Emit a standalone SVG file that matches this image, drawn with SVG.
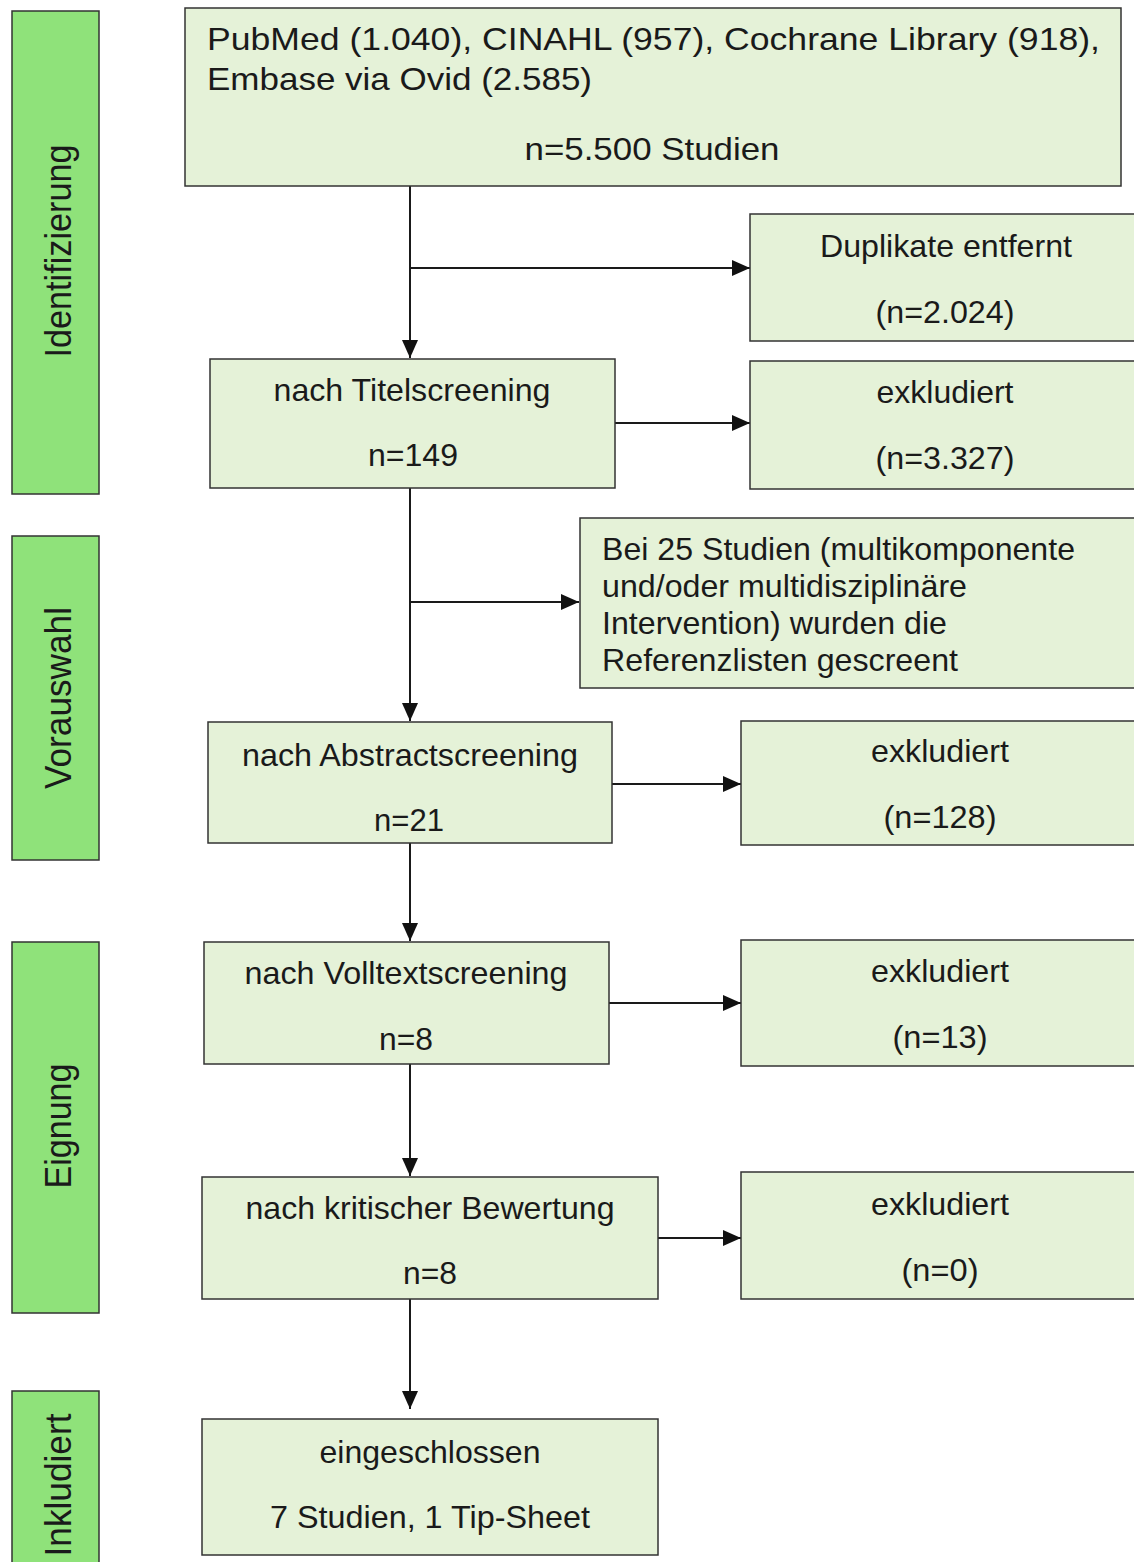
<svg xmlns="http://www.w3.org/2000/svg" width="1134" height="1562" viewBox="0 0 1134 1562">
<style>
.box{fill:#e5f2d8;stroke:#333;stroke-width:1.5}
.side{fill:#8fe27a;stroke:#333;stroke-width:1.5}
text{font-family:"Liberation Sans",Arial,sans-serif;font-size:32px;fill:#1a1a1a}
.s{font-size:36px}
.c{text-anchor:middle}
.line{stroke:#1a1a1a;stroke-width:2;fill:none;marker-end:url(#arr)}
</style>
<defs>
<marker id="arr" viewBox="0 0 18 16" refX="18" refY="8" markerWidth="18" markerHeight="16" markerUnits="userSpaceOnUse" orient="auto">
<path d="M0,0 L18,8 L0,16 Z" fill="#111"/>
</marker>
</defs>
<rect width="1134" height="1562" fill="#fff"/>
<g id="side-identifizierung"><rect class="side" x="12" y="11" width="87" height="483"/><text class="c s" transform="translate(71,251) rotate(-90)" textLength="213" lengthAdjust="spacingAndGlyphs">Identifizierung</text></g>
<g id="side-vorauswahl"><rect class="side" x="12" y="536" width="87" height="324"/><text class="c s" transform="translate(71,698) rotate(-90)" textLength="182" lengthAdjust="spacingAndGlyphs">Vorauswahl</text></g>
<g id="side-eignung"><rect class="side" x="12" y="942" width="87" height="371"/><text class="c s" transform="translate(71,1126) rotate(-90)" textLength="125" lengthAdjust="spacingAndGlyphs">Eignung</text></g>
<g id="side-inkludiert"><rect class="side" x="12" y="1391" width="87" height="180"/><text class="c s" transform="translate(71,1485) rotate(-90)" textLength="143" lengthAdjust="spacingAndGlyphs">Inkludiert</text></g>

<g id="connectors">
<line class="line" x1="410" y1="186" x2="410" y2="358"/>
<line class="line" x1="410" y1="268" x2="750" y2="268"/>
<line class="line" x1="615" y1="423" x2="750" y2="423"/>
<line class="line" x1="410" y1="488" x2="410" y2="721"/>
<line class="line" x1="410" y1="602" x2="579" y2="602"/>
<line class="line" x1="612" y1="784" x2="741" y2="784"/>
<line class="line" x1="410" y1="843" x2="410" y2="941"/>
<line class="line" x1="609" y1="1003" x2="741" y2="1003"/>
<line class="line" x1="410" y1="1064" x2="410" y2="1176"/>
<line class="line" x1="658" y1="1238" x2="741" y2="1238"/>
<line class="line" x1="410" y1="1299" x2="410" y2="1409"/>
</g>

<g id="sources"><rect class="box" x="185" y="8" width="936" height="178"/>
<text x="207" y="50" textLength="893" lengthAdjust="spacingAndGlyphs">PubMed (1.040), CINAHL (957), Cochrane Library (918),</text>
<text x="207" y="90" textLength="385" lengthAdjust="spacingAndGlyphs">Embase via Ovid (2.585)</text>
<text class="c" x="652" y="160" textLength="255" lengthAdjust="spacingAndGlyphs">n=5.500 Studien</text></g>

<g id="duplikate"><rect class="box" x="750" y="214" width="390" height="127"/>
<text class="c" x="946" y="257" textLength="252" lengthAdjust="spacingAndGlyphs">Duplikate entfernt</text>
<text class="c" x="945" y="323" textLength="139" lengthAdjust="spacingAndGlyphs">(n=2.024)</text></g>

<g id="titelscreening"><rect class="box" x="210" y="359" width="405" height="129"/>
<text class="c" x="412" y="401" textLength="277" lengthAdjust="spacingAndGlyphs">nach Titelscreening</text>
<text class="c" x="413" y="466" textLength="90" lengthAdjust="spacingAndGlyphs">n=149</text></g>

<g id="excl-1"><rect class="box" x="750" y="361" width="390" height="128"/>
<text class="c" x="945" y="403" textLength="137" lengthAdjust="spacingAndGlyphs">exkludiert</text>
<text class="c" x="945" y="469" textLength="139" lengthAdjust="spacingAndGlyphs">(n=3.327)</text></g>

<g id="referenzlisten"><rect class="box" x="580" y="518" width="560" height="170"/>
<text x="602" y="560" textLength="473" lengthAdjust="spacingAndGlyphs">Bei 25 Studien (multikomponente</text>
<text x="602" y="597" textLength="365" lengthAdjust="spacingAndGlyphs">und/oder multidisziplinäre</text>
<text x="602" y="634" textLength="345" lengthAdjust="spacingAndGlyphs">Intervention) wurden die</text>
<text x="602" y="671" textLength="356" lengthAdjust="spacingAndGlyphs">Referenzlisten gescreent</text></g>

<g id="abstractscreening"><rect class="box" x="208" y="722" width="404" height="121"/>
<text class="c" x="410" y="766" textLength="336" lengthAdjust="spacingAndGlyphs">nach Abstractscreening</text>
<text class="c" x="409" y="831" textLength="70" lengthAdjust="spacingAndGlyphs">n=21</text></g>

<g id="excl-2"><rect class="box" x="741" y="721" width="400" height="124"/>
<text class="c" x="940" y="762" textLength="138" lengthAdjust="spacingAndGlyphs">exkludiert</text>
<text class="c" x="940" y="828" textLength="113" lengthAdjust="spacingAndGlyphs">(n=128)</text></g>

<g id="volltextscreening"><rect class="box" x="204" y="942" width="405" height="122"/>
<text class="c" x="406" y="984" textLength="323" lengthAdjust="spacingAndGlyphs">nach Volltextscreening</text>
<text class="c" x="406" y="1050" textLength="54" lengthAdjust="spacingAndGlyphs">n=8</text></g>

<g id="excl-3"><rect class="box" x="741" y="940" width="400" height="126"/>
<text class="c" x="940" y="982" textLength="138" lengthAdjust="spacingAndGlyphs">exkludiert</text>
<text class="c" x="940" y="1048" textLength="95" lengthAdjust="spacingAndGlyphs">(n=13)</text></g>

<g id="bewertung"><rect class="box" x="202" y="1177" width="456" height="122"/>
<text class="c" x="430" y="1219" textLength="369" lengthAdjust="spacingAndGlyphs">nach kritischer Bewertung</text>
<text class="c" x="430" y="1284" textLength="54" lengthAdjust="spacingAndGlyphs">n=8</text></g>

<g id="excl-4"><rect class="box" x="741" y="1172" width="400" height="127"/>
<text class="c" x="940" y="1215" textLength="138" lengthAdjust="spacingAndGlyphs">exkludiert</text>
<text class="c" x="940" y="1281" textLength="77" lengthAdjust="spacingAndGlyphs">(n=0)</text></g>

<g id="eingeschlossen"><rect class="box" x="202" y="1419" width="456" height="136"/>
<text class="c" x="430" y="1463" textLength="221" lengthAdjust="spacingAndGlyphs">eingeschlossen</text>
<text class="c" x="430" y="1528" textLength="320" lengthAdjust="spacingAndGlyphs">7 Studien, 1 Tip-Sheet</text></g>
</svg>
